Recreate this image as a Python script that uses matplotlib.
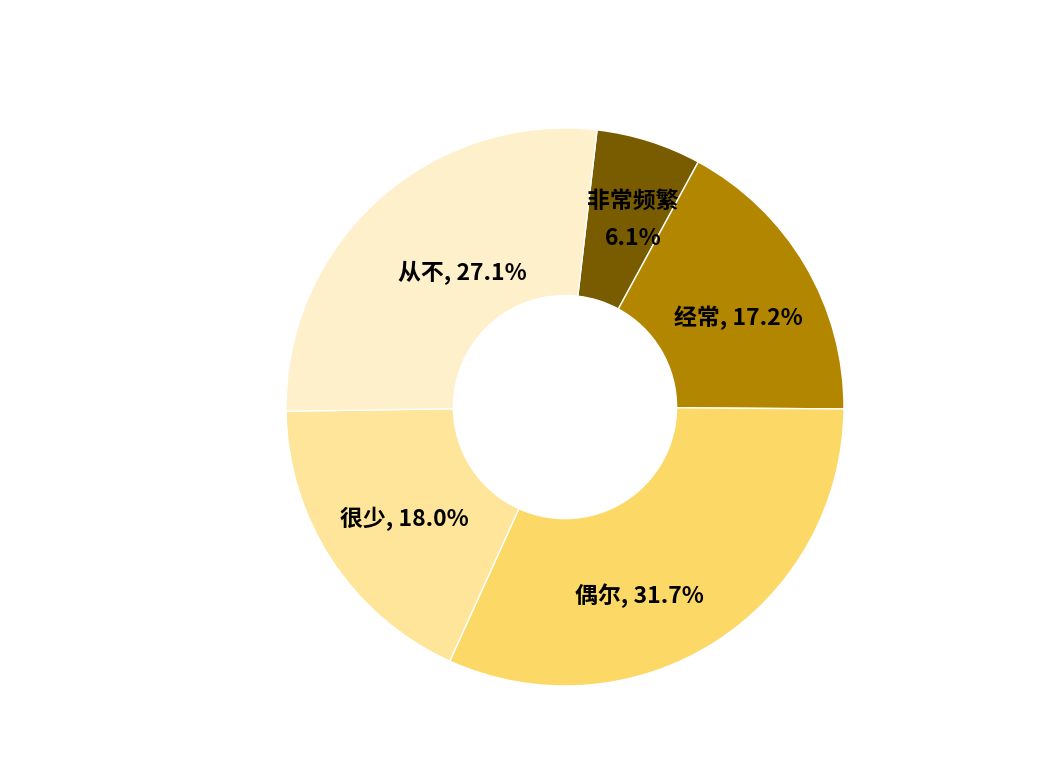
import matplotlib.pyplot as plt
import numpy as np

plt.rcParams['font.family'] = ['Noto Sans CJK SC', 'DejaVu Sans']

categories = ['非常频繁', '经常', '偶尔', '很少', '从不']
shares = [6.1, 17.2, 31.7, 18.0, 27.1]
colors = ['#7a5c00', '#b38600', '#fcd966', '#fee599', '#fff0cc']
label_texts = ['非常频繁\n6.1%', '经常, 17.2%', '偶尔, 31.7%', '很少, 18.0%', '从不, 27.1%']

fig = plt.figure(figsize=(10.62, 7.62), dpi=100)
ax = fig.add_axes([0.2693, 0.0997, 0.5254, 0.7323])

wedges, _ = ax.pie(shares, colors=colors, startangle=83.4, counterclock=False,
                   radius=1.0, wedgeprops=dict(width=0.6, edgecolor='white', linewidth=1))

# label radius (fraction of outer radius) and angle nudge (deg) per slice
label_r = [0.713, 0.70, 0.727, 0.70, 0.606]
label_nudge = [-2.4, -3.3, -11.0, 1.7, -4.7]
for w, txt, r, d in zip(wedges, label_texts, label_r, label_nudge):
    ang = np.deg2rad((w.theta1 + w.theta2) / 2 + d)
    ax.text(r * np.cos(ang), r * np.sin(ang), txt, ha='center', va='center',
            fontsize=16.5, fontweight='bold', color='black', linespacing=1.75)

ax.set_xlim(-1, 1)
ax.set_ylim(-1, 1)
ax.set_aspect('equal')
ax.axis('off')

fig.savefig('out.png', dpi=100)
